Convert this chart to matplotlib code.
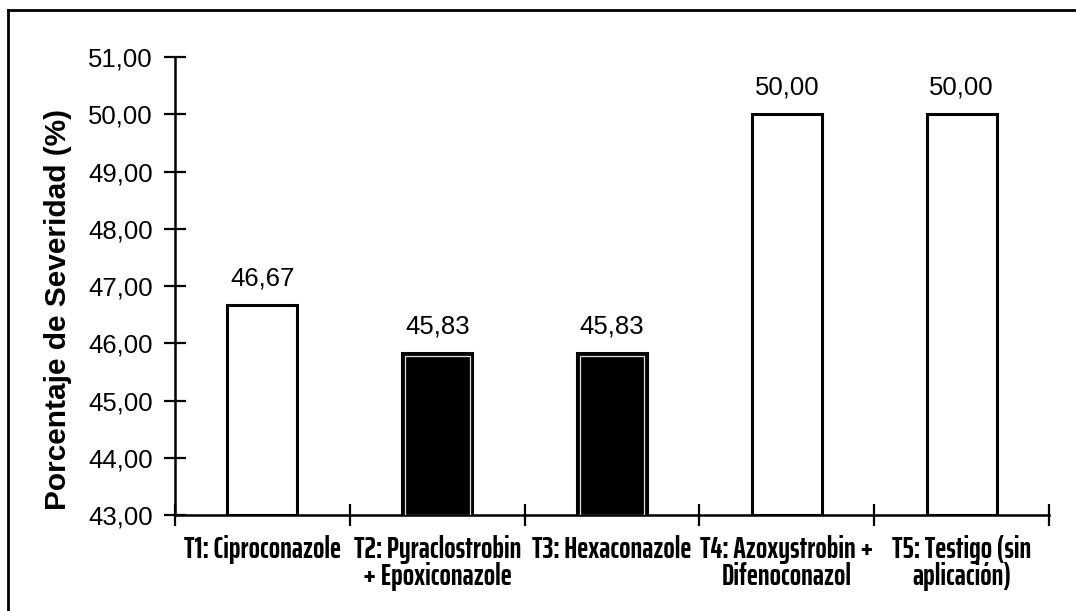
import matplotlib.pyplot as plt
from matplotlib.lines import Line2D

# severity per treatment
tratamientos = ['T1: Ciproconazole', 'T2: Pyraclostrobin\n+ Epoxiconazole', 'T3: Hexaconazole',
                'T4: Azoxystrobin +\nDifenoconazol', 'T5: Testigo (sin\naplicación)']
severidad = [46.67, 45.83, 45.83, 50.00, 50.00]
relleno = ['white', 'black', 'black', 'white', 'white']
yticks = [43, 44, 45, 46, 47, 48, 49, 50, 51]

plt.rcParams['font.family'] = ['Liberation Sans', 'DejaVu Sans']

fig = plt.figure(figsize=(10.76, 6.11), dpi=100)
ax = fig.add_axes([0.1626, 0.157, 0.8124, 0.7497])

x = list(range(len(severidad)))
base = 43
for i, v in enumerate(severidad):
    ax.bar(i, v - base, bottom=base, width=0.4, color=relleno[i], edgecolor='black', linewidth=2.2, zorder=3)
    if relleno[i] == 'black':
        # thin light line inside the dark bars
        ax.bar(i, v - base - 0.06, bottom=base, width=0.37, color='none', edgecolor='#dddddd', linewidth=0.9, zorder=4)
    ax.text(i, v + 0.26, f'{v:.2f}'.replace('.', ','), ha='center', va='bottom', fontsize=18.5)

ax.set_xlim(-0.5, len(severidad) - 0.5)
ax.set_ylim(43, 51)
ax.set_yticks(yticks)
ax.set_yticklabels([f'{t:.2f}'.replace('.', ',') for t in yticks], fontsize=18.5)
ax.set_xticks([i + 0.5 for i in range(-1, len(severidad))])
ax.set_xticklabels([])
ax.set_xticks(x, minor=True)
ax.set_xticklabels(tratamientos, minor=True, family=['Saira ExtraCondensed', 'DejaVu Sans'],
                   fontweight='bold', fontsize=21.5, linespacing=0.95)
ax.tick_params(axis='x', which='minor', length=0, pad=14)
ax.tick_params(axis='x', which='major', direction='inout', length=16, width=1.6)
ax.tick_params(axis='y', direction='inout', length=16, width=1.6, pad=8)

ax.spines['top'].set_visible(False)
ax.spines['right'].set_visible(False)
ax.spines['left'].set_linewidth(1.8)
ax.spines['bottom'].set_linewidth(1.8)

ax.set_ylabel('Porcentaje de Severidad (%)', fontsize=21.5, fontweight='bold')
ax.yaxis.set_label_coords(-0.118, 0.448)

# frame lines along the top and left edges
fig.lines.append(Line2D([0.0075, 0.0075], [0.0, 0.983], transform=fig.transFigure, color='black', linewidth=2))
fig.lines.append(Line2D([0.0075, 1.0], [0.983, 0.983], transform=fig.transFigure, color='black', linewidth=2))

fig.savefig('out.png', dpi=100)
